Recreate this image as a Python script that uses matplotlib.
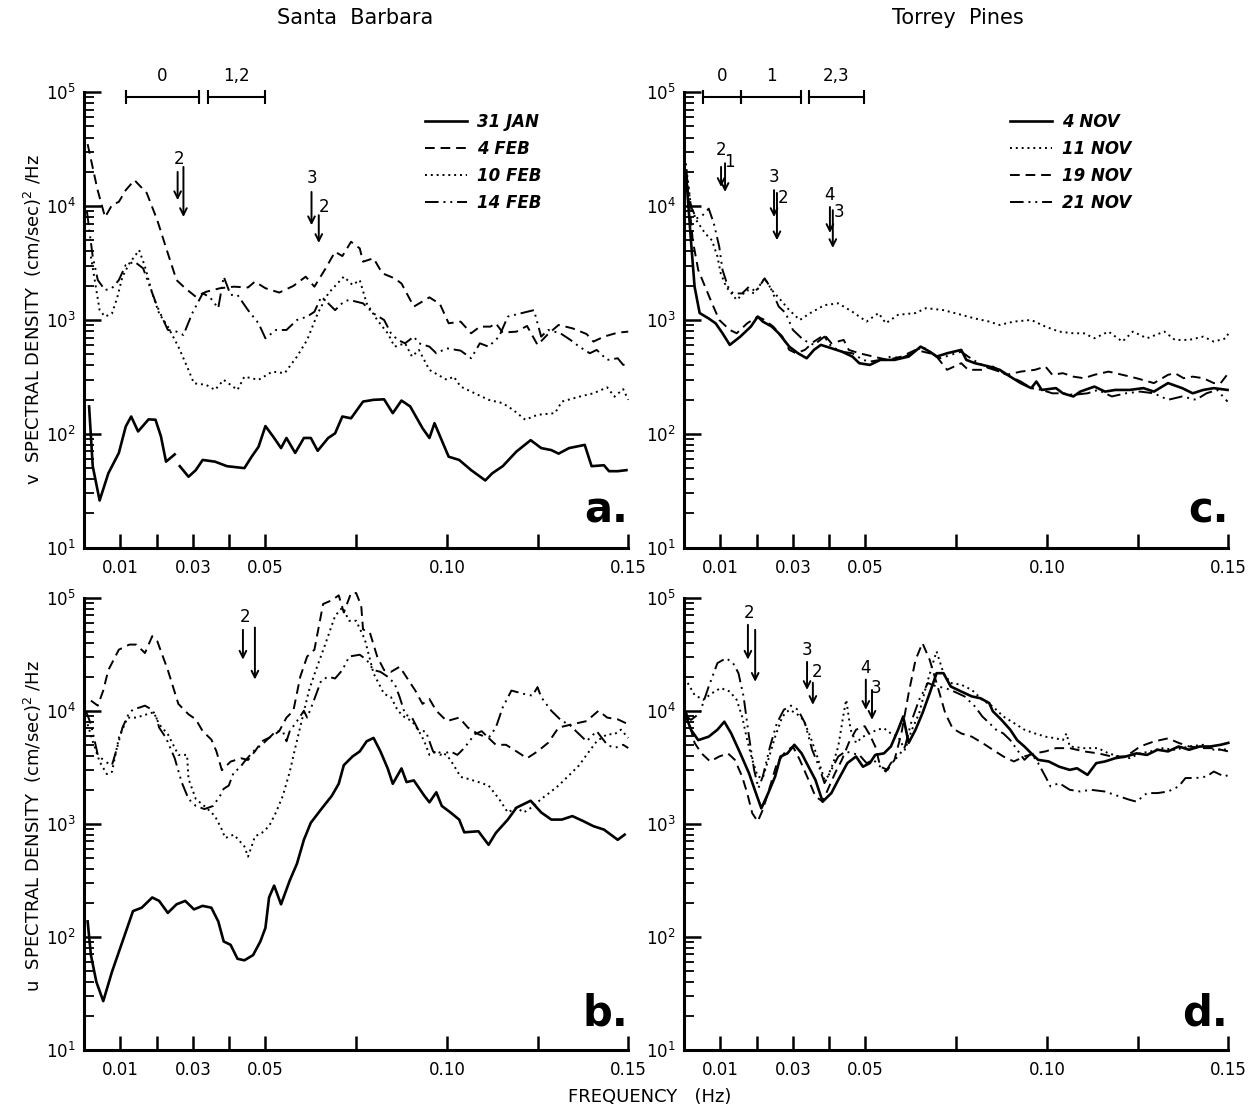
import numpy as np
import matplotlib
matplotlib.use("Agg")
import matplotlib.pyplot as plt
from matplotlib.ticker import FixedLocator, FixedFormatter, LogLocator, NullFormatter

nan = np.nan

# ---- panel a : Santa Barbara, v spectra ----
a_jan31_f = [0.0014, 0.0024, 0.0043, 0.0067, 0.0096, 0.0115, 0.013, 0.0149, 0.0178, 0.0197, 0.0212, 0.0226, 0.025, 0.0257,
             0.0264, 0.0288, 0.0308, 0.0327, 0.0361, 0.0394, 0.0442, 0.0462, 0.0481, 0.050, 0.0524, 0.0543, 0.0558, 0.0582,
             0.0606, 0.0625, 0.0644, 0.0673, 0.0692, 0.0712, 0.0736, 0.0769, 0.0798, 0.0827, 0.0851, 0.0875, 0.0899, 0.0933,
             0.0952, 0.0966, 0.1005, 0.1034, 0.1067, 0.1106, 0.1125, 0.1154, 0.1192, 0.1231, 0.126, 0.1288, 0.1308, 0.1337,
             0.138, 0.1399, 0.1433, 0.1447, 0.1471, 0.1495]
a_jan31_v = [174, 52, 26, 45, 68, 116, 142, 105, 134, 133, 95, 57, 66, nan, 52, 42, 48, 59, 57, 52, 50, 63, 77, 117, 92, 75,
             92, 68, 92, 92, 71, 92, 101, 142, 137, 192, 199, 201, 152, 196, 174, 112, 92, 124, 63, 59, 48, 39, 45, 52, 70,
             88, 75, 72, 67, 75, 80, 52, 53, 47, 47, 48]
a_feb4_f = [0.001, 0.0037, 0.0058, 0.0077, 0.0096, 0.0115, 0.0139, 0.0173, 0.0202, 0.0231, 0.0255, 0.0279, 0.0308, 0.0337,
            0.0375, 0.0413, 0.0452, 0.0471, 0.050, 0.0538, 0.0577, 0.0611, 0.0635, 0.0663, 0.0692, 0.0712, 0.0736, 0.076,
            0.0769, 0.0798, 0.0822, 0.0856, 0.0875, 0.0909, 0.0952, 0.0981, 0.1005, 0.1038, 0.1067, 0.1091, 0.112, 0.1135,
            0.1154, 0.1192, 0.1221, 0.125, 0.1279, 0.1308, 0.1346, 0.1385, 0.1404, 0.1433, 0.1471, 0.150]
a_feb4_v = [35000, 14000, 8000, 10200, 10900, 13800, 16900, 13000, 7500, 3850, 2240, 1900, 1600, 1770, 1900, 1960, 1930,
            2170, 1900, 1740, 1990, 2400, 1960, 2740, 3970, 3640, 4860, 4250, 3250, 3480, 2570, 2320, 2090, 1310, 1580,
            1380, 935, 967, 764, 874, 874, 935, 774, 790, 886, 604, 753, 904, 845, 753, 646, 714, 774, 790]
a_feb10_f = [0.0019, 0.0043, 0.0058, 0.0077, 0.0091, 0.0106, 0.0125, 0.0152, 0.0168, 0.0188, 0.0207, 0.0231, 0.026, 0.0284,
             0.0303, 0.0337, 0.0361, 0.0385, 0.0423, 0.0442, 0.0481, 0.0519, 0.0553, 0.0587, 0.0615, 0.0644, 0.0673, 0.0716,
             0.074, 0.076, 0.0779, 0.0808, 0.0837, 0.0856, 0.0885, 0.0904, 0.0923, 0.0952, 0.100, 0.1019, 0.1038, 0.1077,
             0.1115, 0.1154, 0.1183, 0.1216, 0.125, 0.1298, 0.1317, 0.1365, 0.1404, 0.1442, 0.1462, 0.1486, 0.150]
a_feb10_v = [3600, 1220, 1070, 1140, 1550, 2400, 3140, 4100, 2940, 1710, 1140, 874, 583, 390, 278, 269, 243, 298, 243, 318,
             298, 352, 341, 477, 668, 1140, 1710, 2400, 2030, 2240, 1400, 1000, 764, 583, 624, 477, 546, 364, 298, 318,
             260, 227, 199, 186, 162, 133, 147, 152, 192, 212, 227, 256, 212, 247, 199]
a_feb14_f = [0.0008, 0.0024, 0.0038, 0.0058, 0.0077, 0.0096, 0.0115, 0.0139, 0.0163, 0.0178, 0.0202, 0.0231, 0.0255, 0.0274,
             0.0298, 0.0327, 0.0346, 0.037, 0.0385, 0.0404, 0.0423, 0.0452, 0.0481, 0.050, 0.0529, 0.0558, 0.0587, 0.0615,
             0.0635, 0.0654, 0.0673, 0.0692, 0.0716, 0.0731, 0.0769, 0.0798, 0.0827, 0.0846, 0.0865, 0.0885, 0.0909, 0.0923,
             0.0952, 0.0971, 0.100, 0.1038, 0.1067, 0.1091, 0.1115, 0.1144, 0.1168, 0.1202, 0.124, 0.125, 0.126, 0.1279,
             0.1313, 0.1341, 0.1365, 0.1394, 0.1413, 0.1442, 0.1471, 0.1486, 0.150]
a_feb14_v = [9000, 3600, 2240, 1830, 1900, 2240, 3040, 3250, 2840, 2100, 1310, 817, 790, 738, 1140, 1710, 1600, 1270, 2400,
             1660, 1660, 1220, 935, 690, 817, 817, 1000, 1070, 1180, 1600, 1400, 1220, 1450, 1500, 1400, 1140, 1000, 764,
             667, 624, 714, 624, 583, 510, 564, 538, 461, 624, 583, 714, 1070, 1140, 1220, 935, 714, 817, 764, 667, 583,
             510, 546, 446, 461, 403, 417]

# ---- panel b : Santa Barbara, u spectra ----
b_jan31_f = [0.001, 0.0019, 0.0034, 0.0053, 0.0077, 0.0106, 0.0135, 0.0159, 0.0188, 0.0207, 0.0231, 0.0255, 0.0279, 0.0303,
             0.0327, 0.0351, 0.037, 0.0385, 0.0404, 0.0423, 0.0442, 0.0466, 0.0486, 0.050, 0.051, 0.0524, 0.0543, 0.0567,
             0.0587, 0.0606, 0.0625, 0.0654, 0.0683, 0.0702, 0.0716, 0.074, 0.076, 0.0779, 0.0798, 0.0817, 0.0837, 0.0851,
             0.0875, 0.0889, 0.0909, 0.0938, 0.0952, 0.0971, 0.0986, 0.101, 0.1034, 0.1048, 0.1087, 0.1115, 0.1135, 0.1168,
             0.1192, 0.1231, 0.126, 0.1288, 0.1317, 0.1346, 0.1375, 0.1404, 0.1433, 0.1471, 0.149]
b_jan31_v = [137, 69, 40, 27, 49, 91, 169, 181, 223, 208, 163, 194, 208, 175, 188, 181, 137, 91, 85, 64, 62, 69, 91, 120,
             223, 284, 194, 315, 445, 722, 1020, 1350, 1770, 2260, 3300, 3940, 4370, 5370, 5750, 4370, 3090, 2260, 3090,
             2340, 2420, 1770, 1550, 1900, 1440, 1260, 1090, 841, 859, 652, 830, 1090, 1390, 1600, 1260, 1090, 1090, 1170,
             1060, 953, 889, 722, 802]
b_feb4_f = [0.0019, 0.0038, 0.0053, 0.0067, 0.0096, 0.0125, 0.0144, 0.0168, 0.0188, 0.0202, 0.0231, 0.026, 0.0288, 0.0308,
            0.0327, 0.0351, 0.0365, 0.038, 0.0404, 0.0433, 0.0452, 0.0471, 0.049, 0.0519, 0.0538, 0.0558, 0.0577, 0.0596,
            0.0615, 0.0635, 0.0659, 0.0683, 0.0702, 0.0716, 0.0736, 0.075, 0.0764, 0.0769, 0.0788, 0.0808, 0.0827, 0.0846,
            0.087, 0.0885, 0.0913, 0.0933, 0.0952, 0.0971, 0.100, 0.1034, 0.1058, 0.1087, 0.1115, 0.1135, 0.1163, 0.1192,
            0.1221, 0.125, 0.1279, 0.1308, 0.1346, 0.1385, 0.1418, 0.1442, 0.1471, 0.150]
b_feb4_v = [12300, 11100, 15100, 22900, 34700, 38500, 38500, 32400, 45700, 41200, 22900, 11500, 9300, 8400, 6600, 5560,
            4370, 2980, 3550, 3800, 3670, 4370, 5370, 5960, 6600, 8700, 10000, 20000, 30200, 34700, 88000, 95000, 105000,
            74000, 110000, 110000, 85000, 52500, 49000, 30200, 22900, 22100, 24500, 20700, 15100, 11500, 12700, 10000,
            8100, 8700, 7100, 6200, 5750, 5000, 5000, 4370, 3800, 4370, 5200, 7100, 7600, 8100, 10000, 8700, 8400, 7600]
b_feb10_f = [0.001, 0.0024, 0.0043, 0.0063, 0.0077, 0.0096, 0.012, 0.0144, 0.0173, 0.0192, 0.0207, 0.0231, 0.026, 0.0284,
             0.0288, 0.0308, 0.0337, 0.0361, 0.038, 0.0389, 0.0413, 0.0442, 0.0452, 0.0462, 0.0471, 0.049, 0.051, 0.0529,
             0.0548, 0.0567, 0.0582, 0.0601, 0.062, 0.0639, 0.0663, 0.0692, 0.0712, 0.0731, 0.075, 0.0774, 0.0798, 0.0827,
             0.0846, 0.0865, 0.0885, 0.0904, 0.0923, 0.0938, 0.0952, 0.0971, 0.100, 0.1019, 0.1038, 0.1058, 0.1087, 0.1115,
             0.1144, 0.1168, 0.1192, 0.1212, 0.124, 0.126, 0.1279, 0.1308, 0.1337, 0.1365, 0.1385, 0.1413, 0.1442, 0.1462,
             0.148, 0.150]
b_feb10_v = [7600, 5370, 3550, 2750, 2880, 5750, 8700, 8700, 9300, 9700, 7600, 6200, 4070, 4070, 2500, 1660, 1390, 1170,
             889, 748, 802, 631, 512, 631, 774, 830, 953, 1260, 1770, 2880, 4680, 8400, 15100, 22900, 37200, 69000, 82000,
             62500, 62500, 42700, 21400, 14100, 13200, 10000, 8700, 8100, 6600, 5370, 4070, 4370, 4070, 3300, 2600, 2500,
             2340, 2180, 1660, 1260, 1390, 1260, 1440, 1660, 1840, 2180, 2690, 3300, 4070, 5370, 6200, 6200, 6800, 5750]
b_feb14_f = [0.0005, 0.0019, 0.0038, 0.0058, 0.0077, 0.0091, 0.0106, 0.0125, 0.0139, 0.0154, 0.0168, 0.0183, 0.0197, 0.0207,
             0.0226, 0.025, 0.0269, 0.0288, 0.0308, 0.0332, 0.0356, 0.0375, 0.0385, 0.0399, 0.0413, 0.0428, 0.0442, 0.0471,
             0.049, 0.051, 0.0529, 0.0548, 0.0558, 0.0567, 0.0587, 0.0606, 0.0615, 0.063, 0.0654, 0.0673, 0.0692, 0.0712,
             0.0731, 0.076, 0.0779, 0.0798, 0.0817, 0.0837, 0.0856, 0.087, 0.0885, 0.0904, 0.0923, 0.0942, 0.0962, 0.0981,
             0.101, 0.1029, 0.1048, 0.1077, 0.1096, 0.1115, 0.1135, 0.1154, 0.1178, 0.1212, 0.1236, 0.125, 0.126, 0.1288,
             0.1317, 0.1337, 0.1356, 0.1385, 0.1413, 0.1442, 0.1462, 0.1486, 0.150]
b_feb14_v = [10000, 7600, 4070, 3550, 3300, 4680, 7100, 9700, 10400, 10700, 11100, 10400, 9300, 7100, 5750, 3800, 2340,
             1660, 1440, 1350, 1440, 1770, 2040, 2180, 2880, 3090, 3550, 4520, 5000, 5750, 6600, 6600, 5370, 6600, 8100,
             10000, 8700, 11500, 18600, 20000, 19300, 22900, 30200, 31300, 28200, 22900, 22100, 20000, 17400, 13200, 9300,
             8700, 6600, 6600, 4370, 4070, 4370, 4070, 4680, 6200, 6600, 5750, 7100, 10700, 15100, 14100, 13600, 16200,
             13200, 10000, 8100, 7600, 6600, 5370, 6600, 5000, 4680, 5000, 4680]

# ---- panel c : Torrey Pines, v spectra ----
c_nov4_f = [0.0005, 0.0019, 0.0029, 0.0043, 0.0068, 0.0087, 0.0106, 0.0126, 0.0155, 0.0184, 0.0203, 0.0217, 0.0242, 0.0261,
            0.029, 0.0314, 0.0338, 0.0358, 0.0377, 0.0406, 0.0435, 0.0464, 0.0483, 0.0512, 0.0541, 0.058, 0.0619, 0.0652,
            0.0677, 0.0696, 0.0725, 0.0764, 0.0778, 0.0802, 0.0822, 0.0841, 0.087, 0.0899, 0.0928, 0.0957, 0.0971, 0.0986,
            0.1025, 0.1044, 0.1073, 0.1092, 0.1131, 0.116, 0.1189, 0.1228, 0.1266, 0.1295, 0.1334, 0.1373, 0.1402, 0.1431,
            0.146, 0.1498]
c_nov4_v = [20000, 5000, 1960, 1150, 1030, 935, 764, 604, 714, 874, 1070, 968, 874, 764, 583, 510, 461, 546, 604, 565, 527,
            477, 417, 403, 446, 446, 477, 583, 527, 477, 510, 546, 446, 417, 403, 390, 365, 318, 279, 252, 288, 243, 252,
            227, 213, 235, 260, 235, 243, 243, 252, 235, 279, 252, 227, 243, 252, 243]
c_nov11_f = [0.0005, 0.0019, 0.0034, 0.0058, 0.0077, 0.0092, 0.0101, 0.0116, 0.0145, 0.0174, 0.0193, 0.0222, 0.0242, 0.0266,
             0.029, 0.0319, 0.0348, 0.0387, 0.0425, 0.0464, 0.0503, 0.0536, 0.0556, 0.059, 0.0638, 0.0667, 0.0715, 0.0764,
             0.0802, 0.0841, 0.087, 0.0909, 0.0957, 0.0996, 0.1034, 0.1073, 0.1102, 0.1131, 0.117, 0.1208, 0.1237, 0.1276,
             0.1324, 0.1353, 0.1392, 0.1431, 0.146, 0.1494, 0.150]
c_nov11_v = [23700, 9900, 7500, 5760, 5000, 3600, 2570, 1960, 1500, 1830, 1710, 2320, 1830, 1500, 1220, 1000, 1150, 1350,
             1400, 1180, 968, 1150, 935, 1110, 1150, 1270, 1220, 1110, 1030, 968, 904, 968, 1000, 874, 790, 764, 764, 691,
             790, 646, 790, 691, 790, 668, 668, 714, 646, 691, 764]
c_nov19_f = [0.0005, 0.0024, 0.0039, 0.0058, 0.0077, 0.0097, 0.0126, 0.0145, 0.0174, 0.0203, 0.0222, 0.0246, 0.0271, 0.029,
             0.0309, 0.0333, 0.0358, 0.0387, 0.0406, 0.044, 0.0454, 0.0483, 0.0522, 0.0561, 0.0599, 0.0638, 0.0677, 0.0696,
             0.0725, 0.0764, 0.0783, 0.0822, 0.0851, 0.0889, 0.0928, 0.0967, 0.0996, 0.1015, 0.1044, 0.1073, 0.1102, 0.1131,
             0.117, 0.1208, 0.1247, 0.1295, 0.1334, 0.1353, 0.1377, 0.1402, 0.1431, 0.146, 0.1479, 0.150]
c_nov19_v = [21000, 5000, 2750, 1960, 1400, 1000, 818, 764, 935, 1070, 1000, 874, 714, 546, 510, 546, 646, 740, 625, 668,
             546, 510, 477, 446, 477, 546, 510, 477, 365, 417, 365, 365, 390, 330, 352, 365, 390, 330, 341, 318, 308, 330,
             352, 330, 308, 279, 330, 341, 308, 318, 308, 279, 279, 341]
c_nov21_f = [0.0005, 0.0019, 0.0034, 0.0048, 0.0068, 0.0082, 0.0097, 0.0106, 0.0121, 0.0135, 0.016, 0.0179, 0.0198, 0.0222,
             0.0237, 0.0261, 0.028, 0.030, 0.0329, 0.0358, 0.0387, 0.0406, 0.0435, 0.0464, 0.0493, 0.0512, 0.0541, 0.057,
             0.0599, 0.0628, 0.0657, 0.0677, 0.0706, 0.0735, 0.0764, 0.0783, 0.0812, 0.0841, 0.087, 0.0899, 0.0928, 0.0957,
             0.0986, 0.1015, 0.1044, 0.1073, 0.1112, 0.1141, 0.1179, 0.1218, 0.1257, 0.1295, 0.1334, 0.1373, 0.1411, 0.144,
             0.1469, 0.1498]
c_nov21_v = [21000, 9900, 7800, 8100, 9500, 7050, 4400, 2750, 1960, 1710, 1710, 1960, 1770, 2320, 1960, 1310, 1150, 818,
             668, 604, 714, 583, 527, 510, 446, 431, 446, 477, 461, 510, 583, 527, 461, 493, 527, 477, 417, 377, 352, 318,
             288, 252, 243, 227, 227, 220, 227, 243, 213, 227, 235, 227, 199, 213, 199, 227, 243, 192]

# ---- panel d : Torrey Pines, u spectra ----
d_nov4_f = [0.0005, 0.0019, 0.0039, 0.0068, 0.0092, 0.0111, 0.013, 0.0155, 0.0179, 0.0198, 0.0213, 0.0232, 0.0251, 0.0266,
            0.0285, 0.0304, 0.0324, 0.0343, 0.0362, 0.0382, 0.0406, 0.0425, 0.045, 0.0474, 0.0493, 0.0512, 0.0527, 0.0551,
            0.057, 0.059, 0.0604, 0.0619, 0.0638, 0.0657, 0.0677, 0.0696, 0.0715, 0.0735, 0.0764, 0.0793, 0.0817, 0.0841,
            0.0851, 0.0875, 0.0899, 0.0918, 0.0938, 0.0957, 0.0976, 0.1005, 0.1034, 0.1063, 0.1083, 0.1112, 0.1136, 0.116,
            0.1189, 0.1218, 0.1247, 0.1276, 0.1305, 0.1334, 0.1363, 0.1392, 0.1421, 0.145, 0.1479, 0.150]
d_nov4_v = [9000, 6800, 5500, 5900, 6800, 8000, 6300, 4200, 2800, 1870, 1370, 1870, 2620, 3940, 4200, 5000, 4200, 3200,
            2450, 1570, 1870, 2450, 3440, 3940, 3200, 3440, 4070, 4200, 4830, 6800, 8900, 5200, 6800, 9500, 14300, 21500,
            21500, 16400, 14800, 13400, 12900, 11700, 9900, 8300, 6800, 5500, 4830, 4200, 3680, 3560, 3200, 3000, 3100,
            2710, 3440, 3560, 3810, 3940, 4200, 4070, 4520, 4370, 4830, 4520, 4830, 4830, 5000, 5200]
d_nov11_f = [0.001, 0.0029, 0.0053, 0.0077, 0.0101, 0.0126, 0.0145, 0.016, 0.0174, 0.0188, 0.0203, 0.0217, 0.0232, 0.0251,
             0.0271, 0.029, 0.0309, 0.0329, 0.0348, 0.0367, 0.0387, 0.0396, 0.0411, 0.0425, 0.044, 0.0447, 0.0459, 0.0474,
             0.0493, 0.0512, 0.0532, 0.0551, 0.057, 0.059, 0.0609, 0.0628, 0.0648, 0.0667, 0.0686, 0.0696, 0.0715, 0.0735,
             0.0764, 0.0793, 0.0822, 0.0851, 0.088, 0.0909, 0.0938, 0.0967, 0.0996, 0.1025, 0.1044, 0.1054, 0.1063, 0.1102,
             0.1141, 0.117, 0.1199, 0.1228, 0.1257, 0.1286, 0.1315, 0.1353, 0.1392, 0.1431, 0.146, 0.150]
d_nov11_v = [17600, 13800, 12500, 14300, 15900, 14800, 12500, 8900, 5500, 3680, 2620, 2540, 3680, 5900, 8900, 10200, 9500,
             8300, 5900, 3940, 2450, 2620, 3440, 4830, 9500, 12500, 6800, 5200, 5900, 6300, 6800, 7000, 6300, 5900, 4520,
             6800, 9500, 16400, 26400, 33500, 21500, 17600, 17000, 15300, 12500, 10900, 8900, 7800, 6800, 6300, 5900, 5700,
             5500, 6300, 4830, 4670, 4670, 4200, 3940, 3810, 4200, 4370, 4670, 4520, 4830, 5000, 4520, 4550]
d_nov19_f = [0.0005, 0.0029, 0.0048, 0.0072, 0.0097, 0.0121, 0.014, 0.016, 0.0174, 0.0188, 0.0203, 0.0217, 0.0237, 0.0256,
             0.028, 0.030, 0.0319, 0.0343, 0.0362, 0.0382, 0.0396, 0.0416, 0.0435, 0.0454, 0.0474, 0.0498, 0.0512, 0.0527,
             0.0541, 0.0561, 0.058, 0.0599, 0.0619, 0.0638, 0.0657, 0.0677, 0.0696, 0.072, 0.074, 0.0764, 0.0793, 0.0822,
             0.0851, 0.088, 0.0909, 0.0938, 0.0967, 0.0996, 0.1025, 0.1063, 0.1102, 0.1141, 0.1179, 0.1218, 0.1257, 0.1295,
             0.1334, 0.1363, 0.1392, 0.1431, 0.146, 0.150]
d_nov19_v = [10000, 5200, 4200, 3560, 3940, 4200, 3680, 2620, 1870, 1240, 1050, 1330, 2140, 3440, 4370, 4830, 3680, 2450,
             1750, 1570, 2000, 2800, 3680, 5200, 6800, 7300, 6100, 4830, 3200, 3000, 3680, 6300, 14300, 28200, 39700,
             28200, 17600, 9500, 7000, 6300, 5900, 5200, 4520, 3940, 3560, 3940, 4200, 4370, 4670, 4670, 4370, 4200, 3940,
             3940, 4830, 5350, 5700, 5200, 4830, 4670, 4670, 4370]
d_nov21_f = [0.0005, 0.0019, 0.0043, 0.0068, 0.0092, 0.0116, 0.0135, 0.015, 0.0164, 0.0179, 0.0193, 0.0205, 0.0217, 0.0237,
             0.0256, 0.0275, 0.0295, 0.0314, 0.0333, 0.0353, 0.0372, 0.0387, 0.0406, 0.0425, 0.0445, 0.0464, 0.0483, 0.0503,
             0.0522, 0.0541, 0.0556, 0.057, 0.059, 0.0609, 0.0628, 0.0648, 0.0672, 0.0696, 0.072, 0.0744, 0.0773, 0.0802,
             0.0822, 0.0841, 0.086, 0.088, 0.0899, 0.0918, 0.0938, 0.0957, 0.0976, 0.0996, 0.101, 0.1034, 0.1063, 0.1092,
             0.1121, 0.116, 0.1199, 0.1228, 0.1247, 0.1276, 0.1305, 0.1334, 0.1363, 0.1382, 0.1411, 0.144, 0.146, 0.1489,
             0.150]
d_nov21_v = [9000, 8300, 9500, 16400, 26400, 29200, 26400, 21500, 13400, 5900, 3000, 2070, 2620, 4830, 7800, 10200, 11100,
             10200, 7800, 4520, 3200, 2290, 3000, 3940, 4370, 4200, 4070, 3440, 3680, 3200, 2900, 3440, 3940, 4830, 8300,
             12500, 17600, 16400, 15900, 14800, 13400, 10900, 8900, 7800, 6800, 6300, 5500, 4520, 3680, 4200, 3440, 2620,
             2140, 2290, 2000, 1930, 2000, 1930, 1750, 1630, 1570, 1870, 1870, 1930, 2140, 2540, 2540, 2620, 2900, 2620,
             2700]

sb_labels = ["31 JAN", "4 FEB", "10 FEB", "14 FEB"]
tp_labels = ["4 NOV", "11 NOV", "19 NOV", "21 NOV"]

xticks = [0.01, 0.02, 0.03, 0.04, 0.05, 0.075, 0.10, 0.125, 0.15]
xticklabels = ["0.01", "", "0.03", "", "0.05", "", "0.10", "", "0.15"]

SOLID = dict(ls="-", lw=1.9)
DASH = dict(ls=(0, (5, 3)), lw=1.4)
DOT = dict(ls=(0, (1, 2)), lw=1.4)
DASHDOT = dict(ls=(0, (7, 2.5, 1, 2.5, 1, 2.5)), lw=1.4)

plt.rcParams["font.family"] = "DejaVu Sans"

fig = plt.figure(figsize=(12.54, 11.11), dpi=100)
ax_a = fig.add_axes([0.067, 0.507, 0.434, 0.410])
ax_b = fig.add_axes([0.067, 0.055, 0.434, 0.407])
ax_c = fig.add_axes([0.5455, 0.507, 0.434, 0.410])
ax_d = fig.add_axes([0.5455, 0.055, 0.434, 0.407])


def setup(ax):
    ax.set_yscale("log")
    ax.set_xlim(0, 0.15)
    ax.set_ylim(10, 1e5)
    for s in ["top", "right"]:
        ax.spines[s].set_visible(False)
    for s in ["left", "bottom"]:
        ax.spines[s].set_linewidth(2.2)
    ax.xaxis.set_major_locator(FixedLocator(xticks))
    ax.xaxis.set_major_formatter(FixedFormatter(xticklabels))
    ax.yaxis.set_major_locator(LogLocator(base=10, numticks=10))
    ax.yaxis.set_minor_locator(LogLocator(base=10, subs=np.arange(2, 10), numticks=10))
    ax.yaxis.set_minor_formatter(NullFormatter())
    ax.tick_params(axis="x", direction="in", length=10, width=1.8, pad=8, labelsize=12)
    ax.tick_params(axis="y", which="major", direction="in", length=12, width=1.8, pad=6, labelsize=12)
    ax.tick_params(axis="y", which="minor", direction="in", length=7, width=1.3)


def arrows(ax, arrs, labs):
    tr = ax.get_xaxis_transform()
    for f, y0, y1 in arrs:
        ax.annotate("", xy=(f, y1), xytext=(f, y0), xycoords=tr, textcoords=tr,
                    arrowprops=dict(arrowstyle="->", lw=1.4, color="k", shrinkA=0, shrinkB=0, mutation_scale=12))
    for t, f, y in labs:
        ax.text(f, y, t, transform=tr, ha="center", va="center", fontsize=12)


def bars(ax, segs):
    tr = ax.get_xaxis_transform()
    for f0, f1, lab in segs:
        ax.plot([f0, f1], [0.989, 0.989], transform=tr, color="k", lw=1.5,
                marker="|", ms=10, mew=1.5, clip_on=False)
        ax.text((f0 + f1) / 2, 1.035, lab, transform=tr, ha="center", va="center", fontsize=12)


for ax in [ax_a, ax_b, ax_c, ax_d]:
    setup(ax)

# Santa Barbara
for ax, data in [(ax_a, [(a_jan31_f, a_jan31_v), (a_feb4_f, a_feb4_v), (a_feb10_f, a_feb10_v), (a_feb14_f, a_feb14_v)]),
                 (ax_b, [(b_jan31_f, b_jan31_v), (b_feb4_f, b_feb4_v), (b_feb10_f, b_feb10_v), (b_feb14_f, b_feb14_v)])]:
    for (f, v), st, lab in zip(data, [SOLID, DASH, DOT, DASHDOT], sb_labels):
        ax.plot(f, v, color="k", label=lab, clip_on=False, **st)

# Torrey Pines
for ax, data in [(ax_c, [(c_nov4_f, c_nov4_v), (c_nov11_f, c_nov11_v), (c_nov19_f, c_nov19_v), (c_nov21_f, c_nov21_v)]),
                 (ax_d, [(d_nov4_f, d_nov4_v), (d_nov11_f, d_nov11_v), (d_nov19_f, d_nov19_v), (d_nov21_f, d_nov21_v)])]:
    for (f, v), st, lab in zip(data, [SOLID, DOT, DASH, DASHDOT], tp_labels):
        ax.plot(f, v, color="k", label=lab, clip_on=False, **st)

leg_kw = dict(loc="upper left", frameon=False, handlelength=2.5, handletextpad=0.6, labelspacing=0.55,
              borderpad=0, borderaxespad=0, prop=dict(style="italic", size=12, weight="bold"))
ax_a.legend(bbox_to_anchor=(0.627, 0.955), **leg_kw)
ax_c.legend(bbox_to_anchor=(0.599, 0.955), **leg_kw)

# mode bands and arrows
bars(ax_a, [(0.0115, 0.0318, "0"), (0.0342, 0.0499, "1,2")])
bars(ax_c, [(0.0052, 0.0157, "0"), (0.0157, 0.0322, "1"), (0.0344, 0.0496, "2,3")])

arrows(ax_a, [(0.0258, 0.825, 0.763), (0.0274, 0.836, 0.726), (0.0627, 0.781, 0.708), (0.0647, 0.730, 0.669)],
       [("2", 0.0262, 0.853), ("3", 0.0627, 0.812), ("2", 0.0662, 0.748)])
arrows(ax_b, [(0.0438, 0.929, 0.863), (0.0471, 0.934, 0.819)],
       [("2", 0.0444, 0.958)])
arrows(ax_c, [(0.0102, 0.836, 0.792), (0.0113, 0.844, 0.781), (0.0248, 0.785, 0.726), (0.0256, 0.779, 0.675),
              (0.0402, 0.748, 0.691), (0.0410, 0.741, 0.658)],
       [("2", 0.0102, 0.873), ("1", 0.0124, 0.846), ("3", 0.0248, 0.814), ("2", 0.0274, 0.768),
        ("4", 0.0402, 0.774), ("3", 0.0428, 0.737)])
arrows(ax_d, [(0.0176, 0.940, 0.863), (0.0196, 0.929, 0.814), (0.0339, 0.858, 0.796), (0.0355, 0.812, 0.763),
              (0.0501, 0.819, 0.752), (0.0518, 0.796, 0.730)],
       [("2", 0.0178, 0.967), ("3", 0.0339, 0.885), ("2", 0.0366, 0.836), ("4", 0.0501, 0.845), ("3", 0.0530, 0.801)])

for ax, letter in [(ax_a, "a."), (ax_b, "b."), (ax_c, "c."), (ax_d, "d.")]:
    ax.text(1.0, 0.035, letter, transform=ax.transAxes, ha="right", va="bottom", fontsize=30, fontweight="bold")

fig.text(0.283, 0.984, "Santa  Barbara", ha="center", va="center", fontsize=15)
fig.text(0.764, 0.984, "Torrey  Pines", ha="center", va="center", fontsize=15)
fig.text(0.026, 0.712, "v  SPECTRAL DENSITY  (cm/sec)$^2$ /Hz", rotation=90, ha="center", va="center", fontsize=13)
fig.text(0.026, 0.256, "u  SPECTRAL DENSITY  (cm/sec)$^2$ /Hz", rotation=90, ha="center", va="center", fontsize=13)
fig.text(0.518, 0.013, "FREQUENCY   (Hz)", ha="center", va="center", fontsize=13)

fig.savefig("out.png", dpi=100)
